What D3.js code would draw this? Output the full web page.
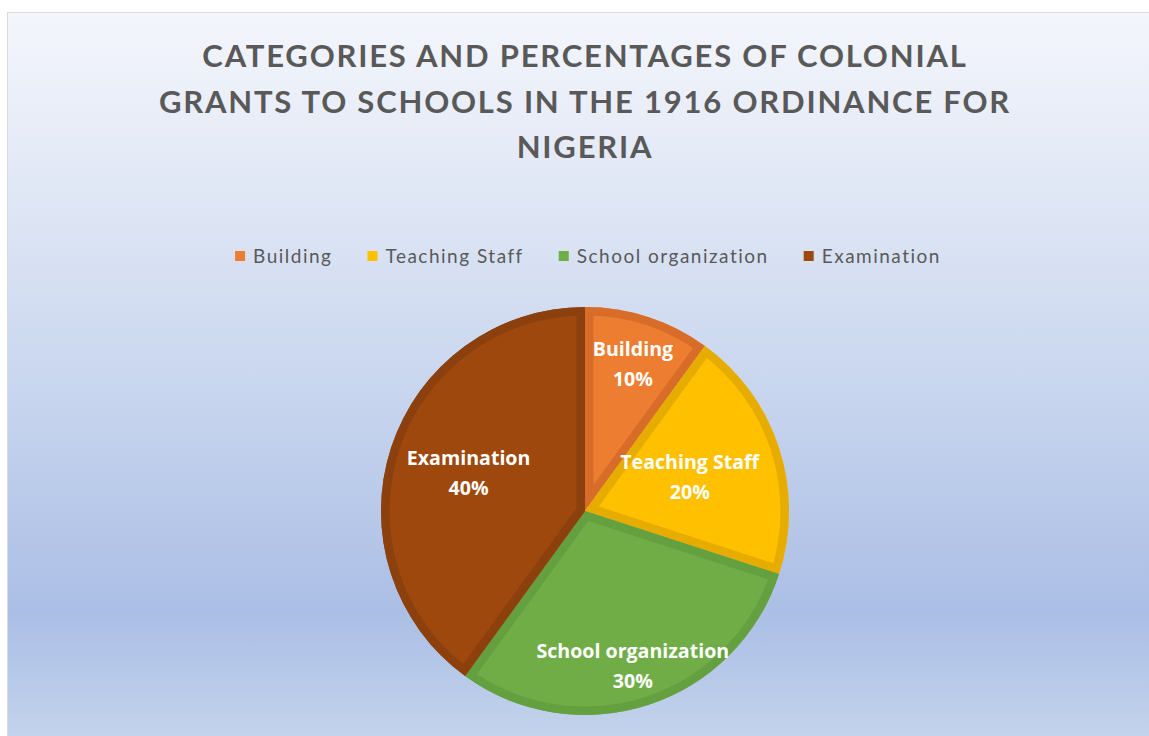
<!DOCTYPE html>
<meta charset="utf-8">
<style>
body { margin: 0; background: #fff; }
.title { font-family: "Lato", sans-serif; font-weight: 700; font-size: 31px; fill: #595959; letter-spacing: 1.8px; }
.legend text { font-family: "Lato", sans-serif; font-size: 19px; fill: #595959; letter-spacing: 1.5px; }
.label { font-family: "Open Sans", sans-serif; font-weight: 700; font-size: 19.6px; fill: #fff; }
</style>
<body>
<script src="https://cdn.jsdelivr.net/npm/d3@7"></script>
<script>

// Chart data
var titleLines = ["CATEGORIES AND PERCENTAGES OF COLONIAL",
                  "GRANTS TO SCHOOLS IN THE 1916 ORDINANCE FOR",
                  "NIGERIA"];
var categories = ["Building", "Teaching Staff", "School organization", "Examination"];
var percentages = [10, 20, 30, 40];

// Slice colours (fill and the darker inner edge)
var fillColors = ["#ed7d31", "#ffc000", "#70ad47", "#9e480e"];
var edgeColors = ["#d86d29", "#e6ac00", "#64a03f", "#8b400d"];

// where each data label sits, as a share of the radius
var labelRadius = [0.76, 0.54, 0.8, 0.6];

var width = 1149, height = 736;
var cx = 585, cy = 511, radius = 204;

var svg = d3.select("body").append("svg")
    .attr("width", width)
    .attr("height", height);

// background gradient
var defs = svg.append("defs");
var grad = defs.append("linearGradient")
    .attr("id", "bg")
    .attr("gradientUnits", "userSpaceOnUse")
    .attr("x1", 0).attr("y1", 12).attr("x2", 0).attr("y2", 736);
[[0, "#f4f6fc"], [0.25, "#e0e7f5"], [0.5, "#cad7ef"], [0.83, "#abbee5"], [1, "#c3d3ec"]]
    .forEach(function(s) {
        grad.append("stop").attr("offset", s[0]).attr("stop-color", s[1]);
    });

svg.append("rect")
    .attr("x", 7.5).attr("y", 12.5)
    .attr("width", 1170).attr("height", 800)
    .attr("fill", "url(#bg)")
    .attr("stroke", "#d9d9d9");

// title
svg.append("g").selectAll("text")
    .data(titleLines)
    .enter().append("text")
        .attr("class", "title")
        .attr("x", 585)
        .attr("y", function(d, i) { return 67 + i * 45.5; })
        .attr("text-anchor", "middle")
        .text(function(d) { return d; });

// legend
var legend = svg.append("g").attr("class", "legend");
var items = legend.selectAll("g")
    .data(categories)
    .enter().append("g");
items.append("rect")
    .attr("width", 10).attr("height", 10)
    .attr("y", 251)
    .attr("fill", function(d, i) { return fillColors[i]; });
items.append("text")
    .attr("x", 18)
    .attr("y", 263)
    .text(function(d) { return d; });

var xpos = 0;
items.each(function() {
    var g = d3.select(this);
    var w = g.select("text").node().getComputedTextLength();
    g.attr("transform", "translate(" + xpos + ",0)");
    xpos += 18 + w + 35;
});
var legendW = xpos - 35;
legend.attr("transform", "translate(" + (588 - legendW / 2) + ",0)");

// pie
var data = categories.map(function(c, i) { return {name: c, value: percentages[i]}; });
var pie = d3.pie().sort(null).value(function(d) { return d.value; });
var arc = d3.arc().innerRadius(0).outerRadius(radius);
var arcs = pie(data);

var chart = svg.append("g")
    .attr("transform", "translate(" + cx + "," + cy + ")");

defs.selectAll("clipPath")
    .data(arcs)
    .enter().append("clipPath")
        .attr("id", function(d) { return "clip" + d.index; })
    .append("path")
        .attr("d", arc);

var slices = chart.selectAll("g.slice")
    .data(arcs)
    .enter().append("g")
        .attr("class", "slice");

slices.append("path")
    .attr("d", arc)
    .attr("fill", function(d) { return fillColors[d.index]; });

// darker inset edge, half the stroke is clipped away
slices.append("path")
    .attr("d", arc)
    .attr("fill", "none")
    .attr("stroke", function(d) { return edgeColors[d.index]; })
    .attr("stroke-width", 17)
    .attr("stroke-linejoin", "miter")
    .attr("clip-path", function(d) { return "url(#clip" + d.index + ")"; });

// data labels
var labels = chart.selectAll("text.label")
    .data(arcs)
    .enter().append("text")
        .attr("class", "label")
        .attr("text-anchor", "middle");
labels.append("tspan").attr("class", "l1").attr("x", 0).attr("y", -8)
    .text(function(d) { return d.data.name; });
labels.append("tspan").attr("class", "l2").attr("x", 0).attr("y", 22)
    .text(function(d) { return d.data.value + "%"; });

labels.each(function(d) {
    var t = d3.select(this);
    var r = radius * labelRadius[d.index];
    var a = (d.startAngle + d.endAngle) / 2;
    var x = Math.sin(a) * r, y = -Math.cos(a) * r;
    // keep both lines inside the circle
    var pad = 4;
    [[t.select(".l1"), -8], [t.select(".l2"), 22]].forEach(function(l) {
        var w = l[0].node().getComputedTextLength();
        var yy = y + l[1] - 7;
        var hw = Math.sqrt(Math.max(0, radius * radius - yy * yy)) - pad;
        if (x + w / 2 > hw) x = hw - w / 2;
        if (x - w / 2 < -hw) x = -hw + w / 2;
    });
    t.attr("transform", "translate(" + x + "," + y + ")");
});

</script>
</body>
